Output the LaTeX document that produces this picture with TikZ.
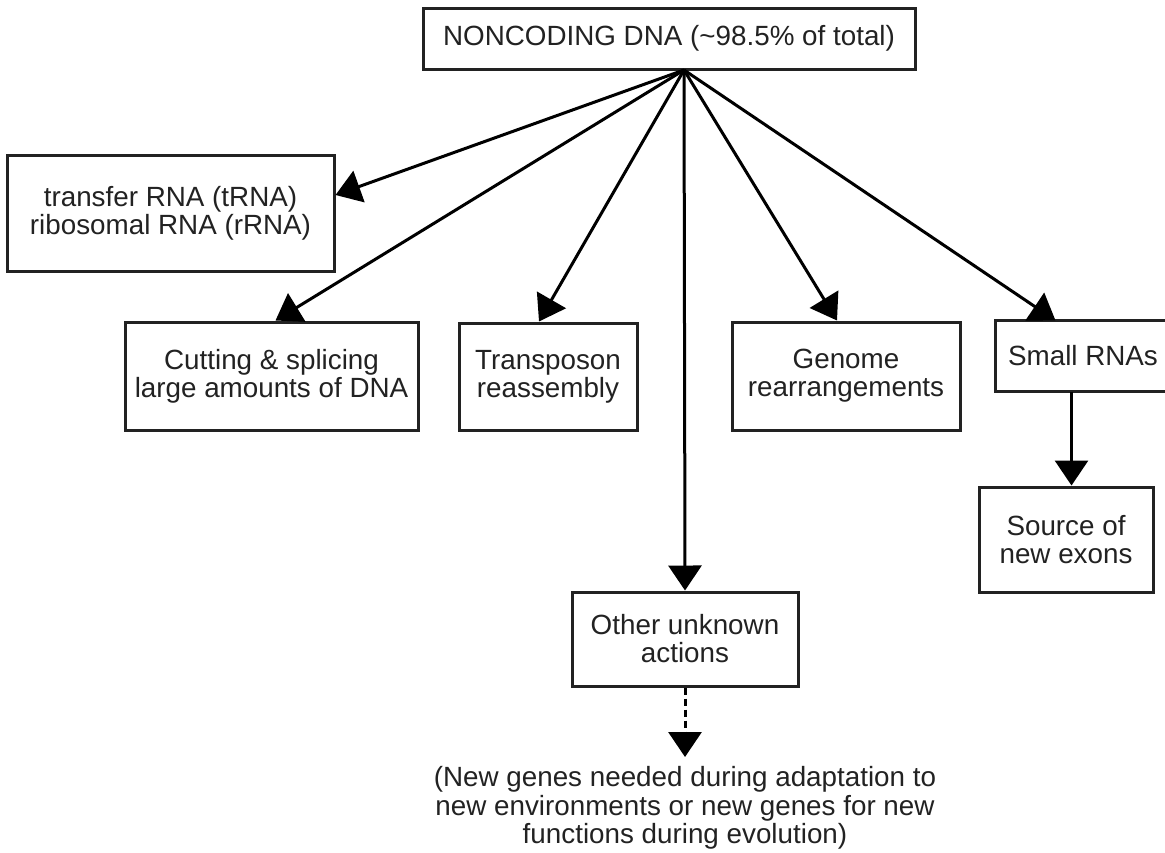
\documentclass[tikz,border=0pt]{standalone}
\usepackage{fontspec}
\setmainfont{Liberation Sans}
\usetikzlibrary{arrows.meta,calc}
\newcommand\boxfont{\fontsize{13.9}{14}\selectfont}
\newcommand\notefont{\fontsize{13.9}{14.3}\selectfont}
\definecolor{ink}{HTML}{222222}
\begin{document}
\begin{tikzpicture}[x=0.5pt,y=-0.5pt,
  box/.style={draw=ink, line width=1.5pt, fill=white, align=center, inner sep=0pt, text=ink, font=\boxfont},
  edge/.style={draw=ink, line width=1.5pt},
  arr/.style={draw=black, line width=1.5pt, -{Triangle[length=12.5pt,width=16.5pt]}},
  dasharr/.style={arr, dash pattern=on 3.5pt off 2pt},
]
\useasboundingbox (0,0) rectangle (1165,852);

\node[box, minimum width=246pt, minimum height=30.5pt] (top) at (669,38.5) {NONCODING DNA (\textasciitilde98.5\% of total)};
\node[box, minimum width=163.5pt, minimum height=58pt] (trna) at (170.5,213) {transfer RNA (tRNA)\\ribosomal RNA (rRNA)};
\node[box, minimum width=146.5pt, minimum height=54pt] (cut) at (271.5,376) {Cutting \& splicing\\large amounts of DNA};
\node[box, minimum width=89pt, minimum height=53.5pt] (trans) at (548,376.5) {Transposon\\reassembly};
\node[box, minimum width=114pt, minimum height=54pt] (genome) at (846,376) {Genome\\rearrangements};
\node[box, draw=none, minimum width=92pt, minimum height=34pt] (small) at (1089,356) {Small RNAs\hspace{6pt}};
\draw[edge] (small.north east) -- (small.north west) -- (small.south west) -- (small.south east);
\node[box, minimum width=87pt, minimum height=52.5pt] (source) at (1066,539.5) {Source of\\new exons};
\node[box, minimum width=113pt, minimum height=47pt] (other) at (685,639) {Other unknown\\actions};
\node[align=center, inner sep=0pt, text=ink, font=\notefont, anchor=north] (note) at (685,766)
  {(New genes needed during adaptation to\\new environments or new genes for new\\functions during evolution)};

\coordinate (src) at (684,70);
\coordinate (noteTip) at (685,757);

\draw[arr] (src) -- ($(trna.east)+(0,-18)$);
\draw[arr] (src) -- ($(cut.north)+(4,0)$);
\draw[arr] (src) -- ($(trans.north)+(-9,0)$);
\draw[arr] (src) -- (other.north);
\draw[arr] (src) -- ($(genome.north)+(-9,0)$);
\draw[arr] (src) -- ($(small.north west)+(60,0)$);
\draw[arr] ($(small.south west)+(76,0)$) -- ($(source.north west)+(94,0)$);
\draw[dasharr] (other.south) -- (noteTip);
\end{tikzpicture}
\end{document}
